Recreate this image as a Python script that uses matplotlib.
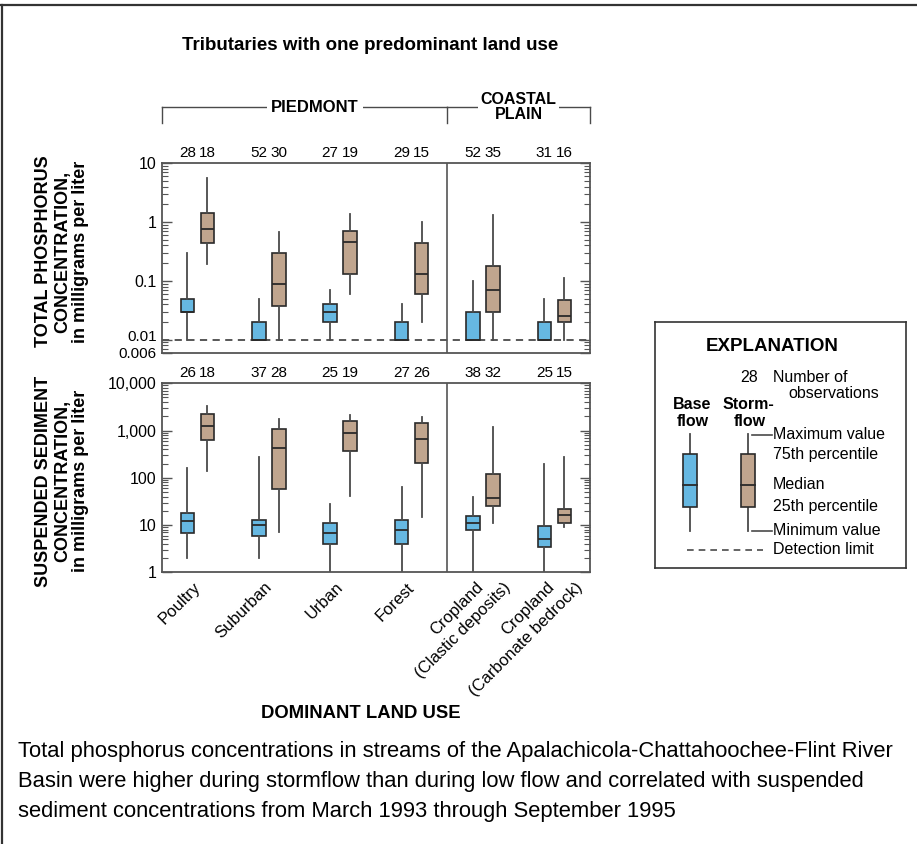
import matplotlib
matplotlib.use("Agg")
import matplotlib.pyplot as plt
import matplotlib.transforms as mtransforms
from matplotlib.lines import Line2D
from matplotlib.patches import Rectangle
from matplotlib.ticker import FixedLocator, LogLocator, NullFormatter

plt.rcParams['font.family'] = ['Liberation Sans', 'DejaVu Sans']

# land-use groups
landUse = ["Poultry", "Suburban", "Urban", "Forest",
           "Cropland\n(Clastic deposits)", "Cropland\n(Carbonate bedrock)"]

# total phosphorus, mg/L  (min, q1, median, q3, max)
tpBaseMin = [0.01, 0.01, 0.01, 0.01, 0.01, 0.01]
tpBaseQ1 = [0.03, 0.01, 0.02, 0.01, 0.01, 0.01]
tpBaseMed = [0.03, 0.01, 0.03, 0.01, 0.01, 0.01]
tpBaseQ3 = [0.05, 0.02, 0.04, 0.02, 0.03, 0.02]
tpBaseMax = [0.30, 0.05, 0.07, 0.04, 0.10, 0.05]
tpStormMin = [0.19, 0.01, 0.06, 0.02, 0.01, 0.01]
tpStormQ1 = [0.44, 0.038, 0.13, 0.06, 0.03, 0.02]
tpStormMed = [0.75, 0.09, 0.46, 0.13, 0.07, 0.025]
tpStormQ3 = [1.45, 0.30, 0.70, 0.44, 0.18, 0.047]
tpStormMax = [5.7, 0.67, 1.4, 1.0, 1.3, 0.11]
tpBaseN = [28, 52, 27, 29, 52, 31]
tpStormN = [18, 30, 19, 15, 35, 16]

# suspended sediment, mg/L
ssBaseMin = [2.0, 2.0, 1.0, 1.0, 1.0, 1.0]
ssBaseQ1 = [6.7, 6.0, 4.0, 4.0, 7.9, 3.4]
ssBaseMed = [12, 10, 6.9, 8.0, 11, 5.0]
ssBaseQ3 = [18, 12.8, 10.9, 12.8, 15.3, 9.4]
ssBaseMax = [159, 280, 27.5, 65, 39, 200]
ssStormMin = [142, 7.0, 41, 15, 10.9, 9.3]
ssStormQ1 = [640, 57, 370, 209, 25, 10.9]
ssStormMed = [1250, 428, 903, 653, 38, 16]
ssStormQ3 = [2240, 1080, 1570, 1420, 122, 21.9]
ssStormMax = [3370, 1730, 2140, 1970, 1210, 276]
ssBaseN = [26, 37, 25, 27, 38, 25]
ssStormN = [18, 28, 19, 26, 32, 15]

BLUE = "#66b8e2"
TAN = "#c0a58e"
EDGE = "#2a2a2a"
GREY = "#4a4a4a"


def makeStats(mins, q1s, meds, q3s, maxs):
    stats = []
    for lo, a, m, b, hi in zip(mins, q1s, meds, q3s, maxs):
        stats.append({"whislo": lo, "q1": a, "med": m, "q3": b, "whishi": hi, "fliers": []})
    return stats


def drawPanel(ax, base, storm, baseN, stormN):
    pos = list(range(1, len(landUse) + 1))
    off = 0.14
    for stats, color, sign in [(base, BLUE, -1), (storm, TAN, 1)]:
        ax.bxp(stats, positions=[p + sign * off for p in pos], widths=0.19,
               patch_artist=True, showcaps=False, manage_ticks=False,
               boxprops=dict(facecolor=color, edgecolor=EDGE, linewidth=1.2),
               medianprops=dict(color=EDGE, linewidth=1.3),
               whiskerprops=dict(color=GREY, linewidth=1.3))
    trans = mtransforms.blended_transform_factory(ax.transData, ax.transAxes)
    for p, nb, ns in zip(pos, baseN, stormN):
        ax.text(p - off, 1.055, str(nb), transform=trans, ha="center", va="center", fontsize=11)
        ax.text(p + off, 1.055, str(ns), transform=trans, ha="center", va="center", fontsize=11)
    ax.axvline(4.5, color="#555555", linewidth=1.2)
    ax.set_xlim(0.5, 6.5)
    ax.set_yscale("log")
    ax.yaxis.set_minor_locator(LogLocator(base=10, subs=range(2, 10)))
    ax.yaxis.set_minor_formatter(NullFormatter())
    ax.tick_params(axis="y", which="both", direction="in", left=True, right=True,
                   color="#555555", labelsize=11.5)
    ax.tick_params(axis="y", which="major", length=7, width=1)
    ax.tick_params(axis="y", which="minor", length=4, width=0.8)
    ax.set_xticks([])
    for s in ax.spines.values():
        s.set_color("#555555")
        s.set_linewidth(1.3)


fig = plt.figure(figsize=(9.17, 8.44), dpi=100)

axTop = fig.add_axes([0.1763, 0.5821, 0.4671, 0.2244])
drawPanel(axTop, makeStats(tpBaseMin, tpBaseQ1, tpBaseMed, tpBaseQ3, tpBaseMax),
          makeStats(tpStormMin, tpStormQ1, tpStormMed, tpStormQ3, tpStormMax),
          tpBaseN, tpStormN)
axTop.axhline(0.01, color=GREY, linestyle=(0, (4, 3)), linewidth=1.3, zorder=0.5)
axTop.set_ylim(0.006, 10)
axTop.yaxis.set_major_locator(FixedLocator([0.006, 0.01, 0.1, 1, 10]))
axTop.set_yticklabels(["0.006", "0.01", "0.1", "1", "10"])
for lbl in axTop.get_yticklabels():
    if lbl.get_text() == "0.006":
        lbl.set_fontsize(11)
    if lbl.get_text() == "0.01":
        lbl.set_fontsize(11)
        lbl.set_transform(lbl.get_transform() +
                          mtransforms.ScaledTranslation(0, 4 / 100, fig.dpi_scale_trans))

axBot = fig.add_axes([0.1763, 0.3219, 0.4671, 0.2240])
drawPanel(axBot, makeStats(ssBaseMin, ssBaseQ1, ssBaseMed, ssBaseQ3, ssBaseMax),
          makeStats(ssStormMin, ssStormQ1, ssStormMed, ssStormQ3, ssStormMax),
          ssBaseN, ssStormN)
axBot.set_ylim(1, 10000)
axBot.yaxis.set_major_locator(FixedLocator([1, 10, 100, 1000, 10000]))
axBot.set_yticklabels(["1", "10", "100", "1,000", "10,000"])

# rotated land-use labels under the bottom panel; two-line ones drawn line by line
lt = mtransforms.blended_transform_factory(axBot.transData, axBot.transAxes)
for i, name in enumerate(landUse):
    parts = name.split("\n")
    shifts = [0.01] if len(parts) == 1 else [-0.03, 0.36]
    for part, dx in zip(parts, shifts):
        axBot.text(i + 1 + dx, -0.067, part, transform=lt, rotation=45,
                   ha="right", va="center", rotation_mode="anchor", fontsize=12)

# y labels
fig.text(0.068, 0.702, "TOTAL PHOSPHORUS\nCONCENTRATION,\nin milligrams per liter",
         rotation=90, ha="center", va="center", fontsize=13, fontweight="bold",
         multialignment="center", linespacing=1.12)
fig.text(0.068, 0.430, "SUSPENDED SEDIMENT\nCONCENTRATION,\nin milligrams per liter",
         rotation=90, ha="center", va="center", fontsize=13, fontweight="bold",
         multialignment="center", linespacing=1.12)

# headings
fig.text(370 / 917, 1 - 46 / 844, "Tributaries with one predominant land use",
         ha="center", va="center", fontsize=13.5, fontweight="bold")
fig.text(361 / 917, 1 - 713 / 844, "DOMINANT LAND USE",
         ha="center", va="center", fontsize=13.3, fontweight="bold")

# region brackets above top panel
bt = mtransforms.blended_transform_factory(axTop.transData, fig.transFigure)
yb, yd = 1 - 107 / 844, 1 - 123 / 844
for x0, x1 in [(0.5, 4.5), (4.5, 6.5)]:
    fig.add_artist(Line2D([x0, x1], [yb, yb], transform=bt, color=GREY, linewidth=1))
for x in [0.5, 4.5, 6.5]:
    fig.add_artist(Line2D([x, x], [yb, yd], transform=bt, color=GREY, linewidth=1))
fig.text(2.65, yb, "PIEDMONT", transform=bt, ha="center", va="center",
         fontsize=12, fontweight="bold",
         bbox=dict(facecolor="white", edgecolor="none", pad=3))
fig.text(5.5, yb, "COASTAL\nPLAIN", transform=bt, ha="center", va="center",
         fontsize=11.5, fontweight="bold", linespacing=1.05,
         bbox=dict(facecolor="white", edgecolor="none", pad=2))

# explanation box
axLeg = fig.add_axes([655 / 917, 1 - 568 / 844, 251 / 917, 246 / 844])
axLeg.set_xlim(655, 906)
axLeg.set_ylim(568, 322)
axLeg.set_xticks([])
axLeg.set_yticks([])
for s in axLeg.spines.values():
    s.set_color("#333333")
    s.set_linewidth(1.2)
axLeg.text(772.5, 347, "EXPLANATION", ha="center", va="center", fontsize=13.5, fontweight="bold")
axLeg.text(749.5, 378, "28", ha="center", va="center", fontsize=11.5)
axLeg.text(773, 378, "Number of", ha="left", va="center", fontsize=11.5)
axLeg.text(788, 394, "observations", ha="left", va="center", fontsize=11.5)
axLeg.text(692.5, 405, "Base", ha="center", va="center", fontsize=11.5, fontweight="bold")
axLeg.text(693, 422, "flow", ha="center", va="center", fontsize=11.5, fontweight="bold")
axLeg.text(723, 405, "Storm-", ha="left", va="center", fontsize=11.5, fontweight="bold")
axLeg.text(749.5, 422, "flow", ha="center", va="center", fontsize=11.5, fontweight="bold")
for xc, color in [(690.3, BLUE), (748, TAN)]:
    axLeg.plot([xc, xc], [434, 531], color=GREY, linewidth=1.3, zorder=1)
    axLeg.add_patch(Rectangle((xc - 7, 454), 14, 53, facecolor=color,
                              edgecolor=EDGE, linewidth=1.2, zorder=2))
    axLeg.plot([xc - 7, xc + 7], [484.7, 484.7], color=EDGE, linewidth=1.3, zorder=3)
axLeg.plot([752, 772], [435, 435], color=GREY, linewidth=1.2)
axLeg.plot([752, 772], [531, 531], color=GREY, linewidth=1.2)
axLeg.plot([687, 763], [550, 550], color=GREY, linewidth=1.2, linestyle=(0, (4, 3)))
for yy, txt in [(435, "Maximum value"), (455, "75th percentile"), (485, "Median"),
                (507, "25th percentile"), (531, "Minimum value"), (550, "Detection limit")]:
    axLeg.text(773, yy, txt, ha="left", va="center", fontsize=11.5)

# caption
caption = ["Total phosphorus concentrations in streams of the Apalachicola-Chattahoochee-Flint River",
           "Basin were higher during stormflow than during low flow and correlated with suspended",
           "sediment concentrations from March 1993 through September 1995"]
for i, line in enumerate(caption):
    fig.text(18 / 917, 1 - (752 + 30 * i) / 844, line, ha="left", va="center",
             fontsize=15.8)

# outer frame (top and left edges)
fig.add_artist(Line2D([0, 1], [1 - 5 / 844, 1 - 5 / 844], transform=fig.transFigure,
                      color="#333333", linewidth=1.6))
fig.add_artist(Line2D([2 / 917, 2 / 917], [0, 1 - 5 / 844], transform=fig.transFigure,
                      color="#333333", linewidth=1.6))

fig.savefig("out.png", dpi=100)
